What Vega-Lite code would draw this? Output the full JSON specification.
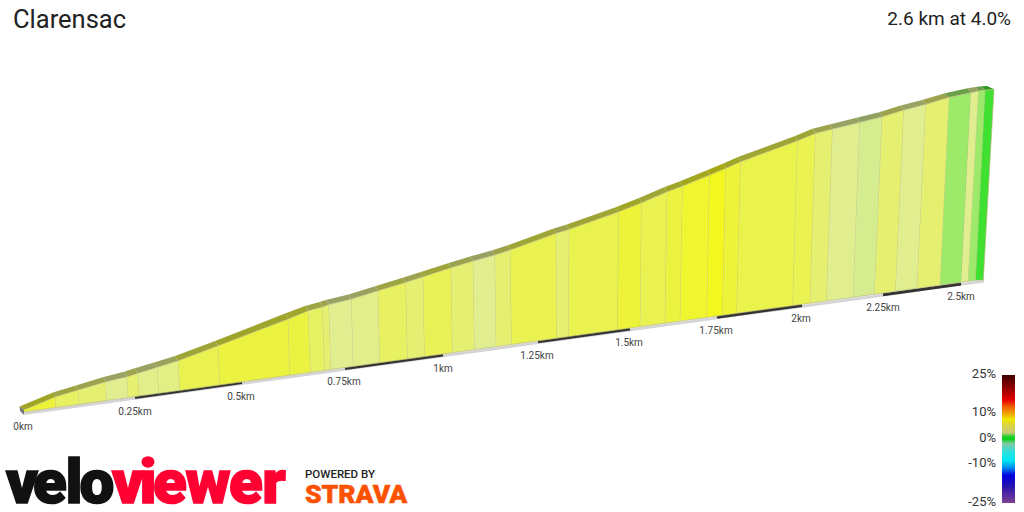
{
  "$schema": "https://vega.github.io/schema/vega-lite/v6.json",
  "autosize": "none",
  "width": 1024,
  "height": 512,
  "padding": 0,
  "background": "white",
  "view": {"stroke": null},
  "config": {"text": {"font": "Roboto"}},
  "datasets": {
    "segments": [
      {"s":1,"g":6,"x":[24,55.7,55.7,24],"y":[410,396.7,407.5,412],"bx":[24,55.7,53,19.5],"by":[410,396.7,392.5,406.5]},
      {"s":2,"g":4.5,"x":[55.7,78.3,79,55.7],"y":[396.7,390,404.4,407.5],"bx":[55.7,78.3,75,53],"by":[396.7,390,385.7,392.5]},
      {"s":3,"g":4,"x":[78.3,106,106.7,79],"y":[390,381.7,400.5,404.4],"bx":[78.3,106,102.7,75],"by":[390,381.7,377.3,385.7]},
      {"s":4,"g":3,"x":[106,127.3,128.3,106.7],"y":[381.7,376.7,397.6,400.5],"bx":[106,127.3,124,102.7],"by":[381.7,376.7,371.7,377.3]},
      {"s":5,"g":4,"x":[127.3,138,139.3,128.3],"y":[376.7,373.3,396,397.6],"bx":[127.3,138,134.7,124],"by":[376.7,373.3,368.3,371.7]},
      {"s":6,"g":3.2,"x":[138,157.3,159,139.3],"y":[373.3,367.3,393.3,396],"bx":[138,157.3,154,134.7],"by":[373.3,367.3,362.5,368.3]},
      {"s":7,"g":3.4,"x":[157.3,178.3,180,159],"y":[367.3,360.7,390.4,393.3],"bx":[157.3,178.3,175,154],"by":[367.3,360.7,356,362.5]},
      {"s":8,"g":5,"x":[178.3,218.3,220,180],"y":[360.7,345.7,384.9,390.4],"bx":[178.3,218.3,215,175],"by":[360.7,345.7,341,356]},
      {"s":9,"g":5.7,"x":[218.3,288.3,290,220],"y":[345.7,319,375.2,384.9],"bx":[218.3,288.3,285,215],"by":[345.7,319,313.5,341]},
      {"s":10,"g":5.6,"x":[288.3,308.3,310.7,290],"y":[319,310.7,372.3,375.2],"bx":[288.3,308.3,305,285],"by":[319,310.7,306,313.5]},
      {"s":11,"g":4.4,"x":[308.3,322.7,325,310.7],"y":[310.7,307,370.3,372.3],"bx":[308.3,322.7,319.5,305],"by":[310.7,307,302,306]},
      {"s":12,"g":4,"x":[322.7,329,331,325],"y":[307,304.5,369.5,370.3],"bx":[322.7,329,325.7,319.5],"by":[307,304.5,300,302]},
      {"s":13,"g":3,"x":[329,351.7,353.3,331],"y":[304.5,299,366.4,369.5],"bx":[329,351.7,348.5,325.7],"by":[304.5,299,294.5,300]},
      {"s":14,"g":3.2,"x":[351.7,378.3,380,353.3],"y":[299,290.7,362.7,366.4],"bx":[351.7,378.3,375,348.5],"by":[299,290.7,286.2,294.5]},
      {"s":15,"g":4.5,"x":[378.3,406,407.7,380],"y":[290.7,282.3,358.9,362.7],"bx":[378.3,406,402.7,375],"by":[290.7,282.3,277.8,286.2]},
      {"s":16,"g":3.9,"x":[406,423.3,424.7,407.7],"y":[282.3,276.7,356.6,358.9],"bx":[406,423.3,420,402.7],"by":[282.3,276.7,272.2,277.8]},
      {"s":17,"g":4.8,"x":[423.3,451.3,452.7,424.7],"y":[276.7,267.7,352.7,356.6],"bx":[423.3,451.3,448,420],"by":[276.7,267.7,263.2,272.2]},
      {"s":18,"g":3.9,"x":[451.3,473.3,474.7,452.7],"y":[267.7,261,349.6,352.7],"bx":[451.3,473.3,470,448],"by":[267.7,261,256.5,263.2]},
      {"s":19,"g":3,"x":[473.3,495,496.3,474.7],"y":[261,255,346.6,349.6],"bx":[473.3,495,491.7,470],"by":[261,255,250.5,256.5]},
      {"s":20,"g":4,"x":[495,510.3,511.7,496.3],"y":[255,250,344.5,346.6],"bx":[495,510.3,507,491.7],"by":[255,250,245.5,250.5]},
      {"s":21,"g":5,"x":[510.3,556.3,557,511.7],"y":[250,233.3,338.2,344.5],"bx":[510.3,556.3,553,507],"by":[250,233.3,228.8,245.5]},
      {"s":22,"g":4,"x":[556.3,569.3,568.7,557],"y":[233.3,229.3,336.6,338.2],"bx":[556.3,569.3,566,553],"by":[233.3,229.3,224.8,228.8]},
      {"s":23,"g":5.1,"x":[569.3,619,617.7,568.7],"y":[229.3,211.7,329.8,336.6],"bx":[569.3,619,615.7,566],"by":[229.3,211.7,207.2,224.8]},
      {"s":24,"g":6,"x":[619,641.7,640.3,617.7],"y":[211.7,202.7,326.7,329.8],"bx":[619,641.7,638.4,615.7],"by":[211.7,202.7,198.2,207.2]},
      {"s":25,"g":5,"x":[641.7,667.3,665.3,640.3],"y":[202.7,191.7,323.2,326.7],"bx":[641.7,667.3,664,638.4],"by":[202.7,191.7,187.2,198.2]},
      {"s":26,"g":5.7,"x":[667.3,682.7,680.3,665.3],"y":[191.7,186,321.1,323.2],"bx":[667.3,682.7,679.4,664],"by":[191.7,186,181.5,187.2]},
      {"s":27,"g":6.5,"x":[682.7,709.7,707,680.3],"y":[186,175,317.4,321.1],"bx":[682.7,709.7,706.4,679.4],"by":[186,175,170.5,181.5]},
      {"s":28,"g":7,"x":[709.7,726,722.7,707],"y":[175,168.3,315.3,317.4],"bx":[709.7,726,722.7,706.4],"by":[175,168.3,163.8,170.5]},
      {"s":29,"g":6,"x":[726,740.7,737,722.7],"y":[168.3,161.7,313.3,315.3],"bx":[726,740.7,737.4,722.7],"by":[168.3,161.7,157.2,163.8]},
      {"s":30,"g":5.2,"x":[740.7,797.7,793,737],"y":[161.7,140.7,305.6,313.3],"bx":[740.7,797.7,794.4,737.4],"by":[161.7,140.7,136.2,157.2]},
      {"s":31,"g":5,"x":[797.7,815.7,810.3,793],"y":[140.7,133.3,303.2,305.6],"bx":[797.7,815.7,812.4,794.4],"by":[140.7,133.3,128.8,136.2]},
      {"s":32,"g":4,"x":[815.7,832.7,826.7,810.3],"y":[133.3,129,300.9,303.2],"bx":[815.7,832.7,829.4,812.4],"by":[133.3,129,124.5,128.8]},
      {"s":33,"g":3,"x":[832.7,860,853.3,826.7],"y":[129,122.3,297.2,300.9],"bx":[832.7,860,856.7,829.4],"by":[129,122.3,117.8,124.5]},
      {"s":34,"g":2.6,"x":[860,882.3,874.7,853.3],"y":[122.3,116.7,294.2,297.2],"bx":[860,882.3,879,856.7],"by":[122.3,116.7,112.2,117.8]},
      {"s":35,"g":4,"x":[882.3,904,895.7,874.7],"y":[116.7,110,291.3,294.2],"bx":[882.3,904,900.7,879],"by":[116.7,110,105.5,112.2]},
      {"s":36,"g":3,"x":[904,926,917.3,895.7],"y":[110,104.3,288.3,291.3],"bx":[904,926,922,900.7],"by":[110,104.3,100,105.5]},
      {"s":37,"g":4,"x":[926,949.3,940.3,917.3],"y":[104.3,97.3,285.2,288.3],"bx":[926,949.3,944,922],"by":[104.3,97.3,93.5,100]},
      {"s":38,"g":2,"x":[949.3,971,961.3,940.3],"y":[97.3,92.7,282.3,285.2],"bx":[949.3,971,967.5,944],"by":[97.3,92.7,88.3,93.5]},
      {"s":39,"g":3,"x":[971,978.7,968.3,961.3],"y":[92.7,91,281.3,282.3],"bx":[971,978.7,975.5,967.5],"by":[92.7,91,87,88.3]},
      {"s":40,"g":2,"x":[978.7,985.3,975.7,968.3],"y":[91,90,280.3,281.3],"bx":[978.7,985.3,981.5,975.5],"by":[91,90,86.3,87]},
      {"s":41,"g":1,"x":[985.3,994,983.3,975.7],"y":[90,89.3,280,280.3],"bx":[985.3,994,987,981.5],"by":[90,89.3,86,86.3]}
    ]
  },
  "data": {"name": "segments"},
  "encoding": {
    "x": {"field": "x", "type": "quantitative", "scale": {"domain": [0, 1024], "nice": false}, "axis": null},
    "y": {"field": "y", "type": "quantitative", "scale": {"domain": [512, 0], "nice": false}, "axis": null}
  },
  "layer": [
    {
      "data": {"values": [{"x": 24, "y": 413.6, "x2": 984, "y2": 281.2}]},
      "mark": {"type": "rule", "color": "#d4d4d4", "strokeWidth": 2.6},
      "encoding": {"x2": {"field": "x2"}, "y2": {"field": "y2"}}
    },
    {
      "data": {"values": [
        {"x": 135, "y": 397.4, "x2": 242, "y2": 382.6},
        {"x": 345, "y": 368.4, "x2": 443, "y2": 354.9},
        {"x": 538, "y": 341.8, "x2": 630, "y2": 329.1},
        {"x": 717, "y": 317.2, "x2": 802, "y2": 305.4},
        {"x": 883, "y": 294.7, "x2": 961, "y2": 283.9}
      ]},
      "mark": {"type": "rule", "color": "#333333", "strokeWidth": 3},
      "encoding": {"x2": {"field": "x2"}, "y2": {"field": "y2"}}
    },
    {
      "transform": [
        {"calculate": "[1, 2, 3, 4]", "as": "o"},
        {"flatten": ["x", "y", "bx", "by", "o"]}
      ],
      "layer": [
        {
          "mark": {"type": "line", "strokeWidth": 0},
          "encoding": {
            "x": {"field": "bx", "type": "quantitative"},
            "y": {"field": "by", "type": "quantitative"},
            "detail": {"field": "s"},
            "order": {"field": "o"},
            "fill": {
              "field": "g", "type": "quantitative", "legend": null,
              "scale": {
                "domain": [1, 2, 2.6, 3, 4, 5, 6, 7],
                "range": ["#2a9820", "#6a9e48", "#8fa060", "#98a262", "#9ca34c", "#9ea536", "#a0a526", "#a4a816"]
              }
            }
          }
        },
        {
          "mark": {"type": "line", "stroke": "#b5b27a", "strokeWidth": 0.8, "strokeOpacity": 0.8},
          "encoding": {
            "detail": {"field": "s"},
            "order": {"field": "o"},
            "fill": {
              "field": "g", "type": "quantitative", "legend": null,
              "scale": {
                "domain": [1, 2, 2.6, 3, 4, 5, 6, 7],
                "range": ["#40e030", "#9de96a", "#d5ed8e", "#e0ee90", "#e6f070", "#e9f250", "#ecf338", "#f2f720"]
              }
            }
          }
        }
      ],
      "resolve": {"scale": {"fill": "independent"}}
    },
    {
      "data": {"values": [
        {"o": 1, "x": 19.5, "y": 406.5},
        {"o": 2, "x": 24, "y": 410},
        {"o": 3, "x": 24, "y": 415},
        {"o": 4, "x": 20, "y": 411}
      ]},
      "mark": {"type": "line", "fill": "#777777", "strokeWidth": 0},
      "encoding": {"order": {"field": "o"}}
    },
    {
      "data": {"values": [
        {"x": 23, "y": 427, "label": "0km"},
        {"x": 135, "y": 412, "label": "0.25km"},
        {"x": 241, "y": 397, "label": "0.5km"},
        {"x": 344, "y": 382, "label": "0.75km"},
        {"x": 443, "y": 369, "label": "1km"},
        {"x": 537, "y": 356, "label": "1.25km"},
        {"x": 629, "y": 343, "label": "1.5km"},
        {"x": 716, "y": 331, "label": "1.75km"},
        {"x": 801, "y": 319, "label": "2km"},
        {"x": 883, "y": 308, "label": "2.25km"},
        {"x": 961, "y": 297, "label": "2.5km"}
      ]},
      "mark": {"type": "text", "fontSize": 10, "color": "#444444", "baseline": "middle"},
      "encoding": {"text": {"field": "label"}}
    },
    {
      "data": {"values": [{"x": 1002, "x2": 1015, "y": 375, "y2": 503}]},
      "mark": {
        "type": "rect",
        "color": {
          "gradient": "linear", "x1": 0, "y1": 0, "x2": 0, "y2": 1,
          "stops": [
            {"offset": 0, "color": "#3d0000"},
            {"offset": 0.117, "color": "#a00000"},
            {"offset": 0.196, "color": "#e80000"},
            {"offset": 0.248, "color": "#f06000"},
            {"offset": 0.287, "color": "#f09000"},
            {"offset": 0.347, "color": "#f0e800"},
            {"offset": 0.39, "color": "#dcd440"},
            {"offset": 0.452, "color": "#c4c878"},
            {"offset": 0.485, "color": "#10d020"},
            {"offset": 0.505, "color": "#10d020"},
            {"offset": 0.535, "color": "#80c8a0"},
            {"offset": 0.6, "color": "#30e0e0"},
            {"offset": 0.666, "color": "#00e8f0"},
            {"offset": 0.723, "color": "#0090f0"},
            {"offset": 0.783, "color": "#0000e0"},
            {"offset": 0.86, "color": "#2010b0"},
            {"offset": 1, "color": "#804090"}
          ]
        }
      },
      "encoding": {"x2": {"field": "x2"}, "y2": {"field": "y2"}}
    },
    {
      "data": {"values": [
        {"x": 996, "y": 374, "label": "25%"},
        {"x": 996, "y": 412, "label": "10%"},
        {"x": 996, "y": 438, "label": "0%"},
        {"x": 996, "y": 463, "label": "-10%"},
        {"x": 996, "y": 502, "label": "-25%"}
      ]},
      "mark": {"type": "text", "fontSize": 13, "color": "#333333", "align": "right", "baseline": "middle"},
      "encoding": {"text": {"field": "label"}}
    },
    {
      "data": {"values": [{"x": 13, "y": 20, "label": "Clarensac"}]},
      "mark": {"type": "text", "fontSize": 25.5, "color": "#222222", "align": "left", "baseline": "middle"},
      "encoding": {"text": {"field": "label"}}
    },
    {
      "data": {"values": [{"x": 1011, "y": 19, "label": "2.6 km at 4.0%"}]},
      "mark": {"type": "text", "fontSize": 19, "color": "#222222", "align": "right", "baseline": "middle"},
      "encoding": {"text": {"field": "label"}}
    },
    {
      "data": {"values": [
        {"x": 22, "y": 503, "ch": "v", "brand": "velo"},
        {"x": 50, "y": 503, "ch": "e", "brand": "velo"},
        {"x": 74, "y": 503, "ch": "l", "brand": "velo"},
        {"x": 97, "y": 503, "ch": "o", "brand": "velo"},
        {"x": 128, "y": 503, "ch": "v", "brand": "viewer"},
        {"x": 148, "y": 503, "ch": "i", "brand": "viewer"},
        {"x": 170, "y": 503, "ch": "e", "brand": "viewer"},
        {"x": 208, "y": 503, "ch": "w", "brand": "viewer"},
        {"x": 246, "y": 503, "ch": "e", "brand": "viewer"},
        {"x": 274, "y": 503, "ch": "r", "brand": "viewer"}
      ]},
      "mark": {"type": "text", "fontSize": 62, "fontWeight": 900, "baseline": "alphabetic", "strokeWidth": 1.6},
      "encoding": {
        "text": {"field": "ch"},
        "color": {"field": "brand", "type": "nominal", "legend": null, "scale": {"domain": ["velo", "viewer"], "range": ["#111111", "#ff0033"]}},
        "stroke": {"field": "brand", "type": "nominal", "legend": null, "scale": {"domain": ["velo", "viewer"], "range": ["#111111", "#ff0033"]}}
      }
    },
    {
      "data": {"values": [{"x": 305, "y": 478, "label": "POWERED BY"}]},
      "mark": {"type": "text", "fontSize": 11.5, "fontWeight": 500, "color": "#222222", "align": "left", "baseline": "alphabetic"},
      "encoding": {"text": {"field": "label"}}
    },
    {
      "data": {"values": [{"x": 305, "y": 503, "label": "STRAVA"}]},
      "mark": {"type": "text", "fontSize": 26.5, "fontWeight": 900, "color": "#fc5200", "stroke": "#fc5200", "strokeWidth": 0.5, "align": "left", "baseline": "alphabetic"},
      "encoding": {"text": {"field": "label"}}
    }
  ]
}
